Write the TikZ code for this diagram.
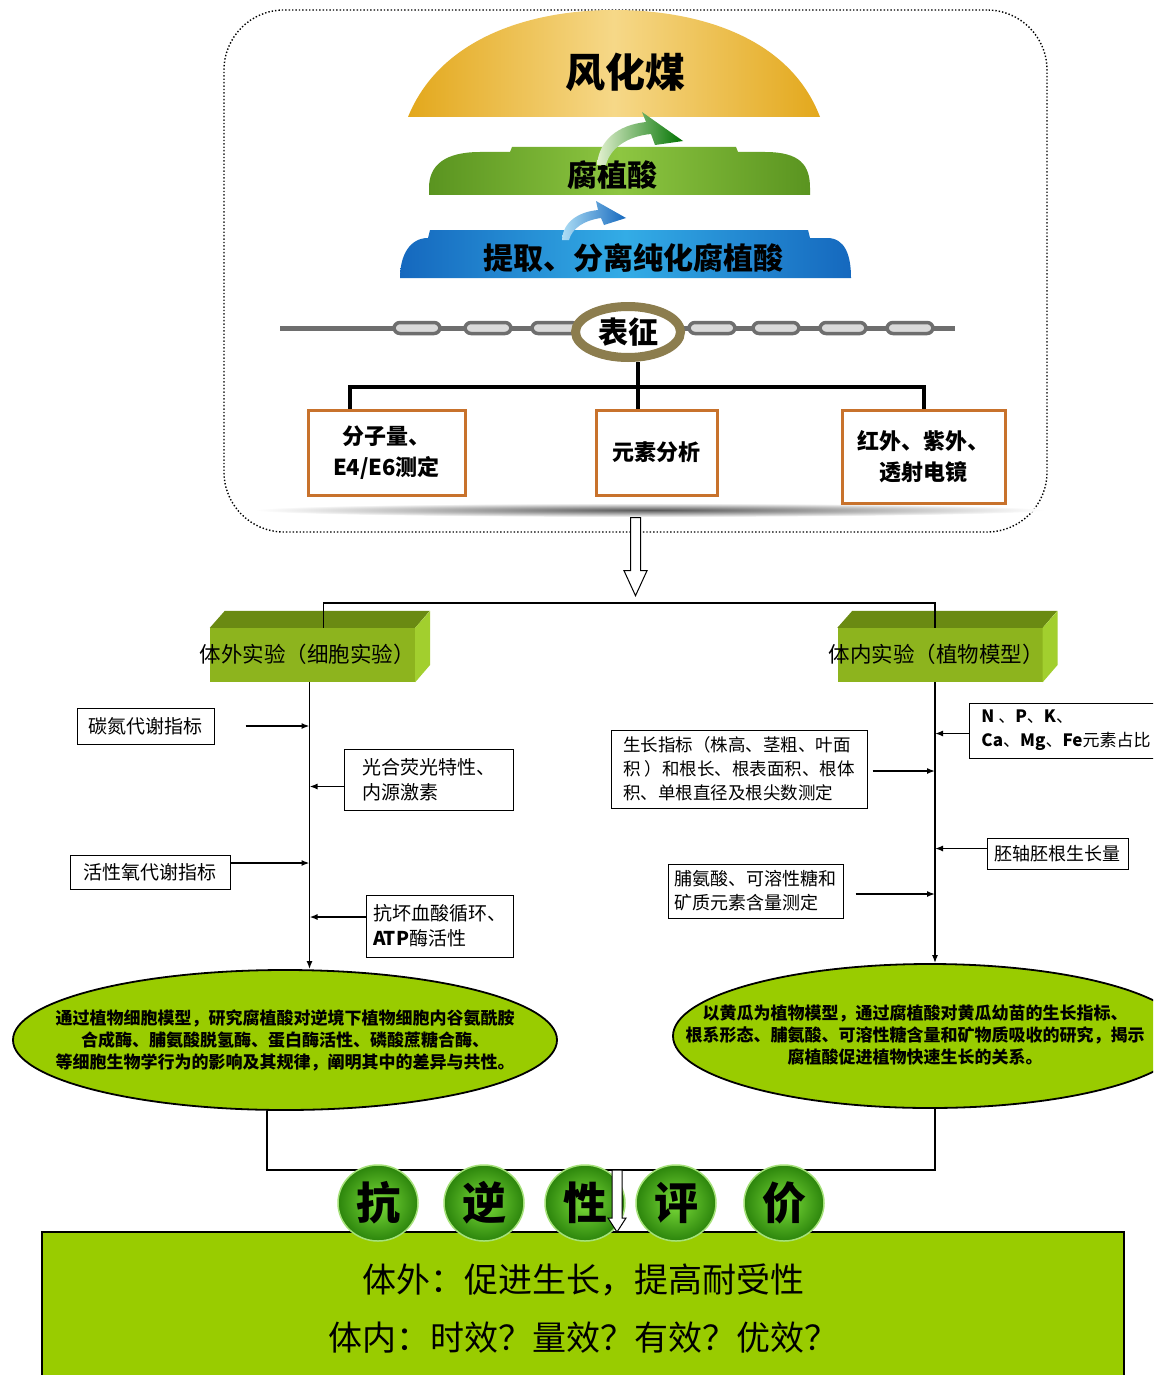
\documentclass[tikz,border=0pt]{standalone}
\usepackage{fontspec}
\setmainfont{Noto Sans CJK SC}
\usepackage{tikz}
\usetikzlibrary{arrows.meta,shapes.geometric,calc}
\definecolor{coalgold}{HTML}{E3A81C}
\definecolor{coallight}{HTML}{F6D888}
\definecolor{humicdark}{HTML}{5A9420}
\definecolor{humiclight}{HTML}{8DC641}
\definecolor{extractdark}{HTML}{1568BE}
\definecolor{extractlight}{HTML}{33ACE6}
\definecolor{chaingray}{HTML}{6E6E6E}
\definecolor{linkfill}{HTML}{DADADA}
\definecolor{ringolive}{HTML}{8C7D4E}
\definecolor{boxorange}{HTML}{C8722C}
\definecolor{blockfront}{HTML}{8DB41E}
\definecolor{blocktop}{HTML}{6A8A12}
\definecolor{blockside}{HTML}{A2CF2E}
\definecolor{leafgreen}{HTML}{99CC00}
\definecolor{balllight}{HTML}{7CDD3A}
\definecolor{balldark}{HTML}{2C850C}
\definecolor{ballrim}{HTML}{A6E27A}
\newcommand{\setfs}[2]{\fontsize{#1}{#2}\selectfont}
\tikzset{
    panel/.style={
        draw, dotted, line width=1.4pt, rounded corners=60pt
    },
    bandtext/.style={
        font={\setfs{30}{34}\bfseries}, inner sep=0pt
    },
    chainbar/.style={line width=5pt, color=chaingray},
    chainlink/.style={
        draw=chaingray, fill=linkfill, line width=3.5pt,
        rounded corners=6pt, minimum width=46pt, minimum height=11pt, inner sep=0pt
    },
    charring/.style={
        ellipse, draw=ringolive, fill=white, line width=9pt,
        minimum width=105pt, minimum height=51pt, inner sep=0pt,
        font={\setfs{30}{34}\bfseries}
    },
    treebar/.style={line width=4pt, color=black},
    methodbox/.style={
        draw=boxorange, fill=white, line width=3pt,
        align=center, inner sep=3pt,
        font={\setfs{22}{31}\bfseries}
    },
    hollow/.style={draw=black, fill=white, line width=1pt, line join=miter},
    link/.style={line width=1.5pt, color=black},
    arr/.style={-{Latex[length=8pt, width=6pt]}, line width=1.5pt, color=black},
    blockface/.style={
        fill=blockfront, minimum width=205pt, minimum height=54pt, inner sep=0pt
    },
    blocklabel/.style={
        font={\setfs{21.5}{26}}, text=black, inner sep=0pt
    },
    itembox/.style={
        draw=black, fill=white, line width=1pt,
        align=left, inner sep=4pt,
        font={\setfs{19}{25}}
    },
    studyell/.style={
        ellipse, draw=black, fill=leafgreen, line width=1.8pt, inner sep=0pt
    },
    studytext/.style={
        align=center, inner sep=0pt,
        font={\setfs{17}{22}\bfseries}
    },
    evalball/.style={
        ellipse, shade, inner color=balllight, outer color=balldark,
        draw=ballrim, line width=1.5pt,
        minimum width=80pt, minimum height=76pt, inner sep=0pt,
        font={\setfs{44}{48}\bfseries}
    },
    verdictbox/.style={
        draw=black, fill=leafgreen, line width=2.5pt,
        minimum width=1082pt, minimum height=154pt,
        align=center, font={\setfs{34}{58}}
    },
}
\begin{document}
\begin{tikzpicture}[x=1pt, y=-1pt]
    \useasboundingbox (0,0) rectangle (1153,1375);
    \clip (0,0) rectangle (1153,1375);
    \fill[white] (0,0) rectangle (1153,1375);

    % preparation panel
    \node[panel, minimum width=823pt, minimum height=522pt] (panel) at (635.5,271) {};

    % weathered coal dome
    \shade[left color=coalgold, right color=coalgold, middle color=coallight]
        (408,117) .. controls (440,38) and (530,10) .. (614,10)
        .. controls (700,10) and (790,38) .. (820,117) -- cycle;
    \node[bandtext, font={\setfs{40}{44}\bfseries}] (coal) at (625,72) {风化煤};

    % humic acid band
    \shade[left color=humicdark, right color=humicdark, middle color=humiclight]
        (429,195) -- (429,188) .. controls (429,165) and (445,152) .. (480,152)
        -- (510,152) -- (512,147) -- (736,147) -- (738,152) -- (765,152)
        .. controls (800,152) and (810,165) .. (810,188) -- (810,195) -- cycle;
    \node[bandtext] (humic) at (612,175) {腐植酸};

    % extraction band
    \shade[left color=extractdark, right color=extractdark, middle color=extractlight]
        (400,278) .. controls (400,255) and (410,238) .. (428,238)
        -- (430,230) -- (808,230) -- (810,238) -- (827,238)
        .. controls (845,238) and (851,255) .. (851,278) -- cycle;
    \node[bandtext] (extract) at (633,258) {提取、分离纯化腐植酸};

    % curved arrows between the bands
    \shade[left color=humiclight!25!white, right color=green!45!black]
        (597,165) .. controls (599,140) and (618,125) .. (646,122)
        -- (642,112) -- (683,141) -- (655,145) -- (651,134)
        .. controls (628,136) and (610,148) .. (606,165) -- cycle;
    \shade[left color=extractlight!40!white, right color=extractdark]
        (562,240) .. controls (563,222) and (578,212) .. (598,210)
        -- (596,201) -- (626,218) -- (604,225) -- (601,218)
        .. controls (585,220) and (572,228) .. (569,240) -- cycle;

    % characterisation chain
    \coordinate (chainL) at (280,328);
    \coordinate (chainR) at (955,328);
    \draw[chainbar] (chainL) -- (chainR);
    \foreach \lx [count=\k] in {417,488,555,712,776,843,910}
        \node[chainlink] (link\k) at (\lx,328) {};
    \node[charring] (char) at (628,332) {表征};

    % floor shadow under the method boxes
    \shade[inner color=black!65, outer color=white] (650,510) ellipse [x radius=395, y radius=7];

    \node[methodbox, minimum width=157pt, minimum height=85pt] (mw) at (386.5,452.5) {分子量、\\E4/E6测定};
    \node[methodbox, minimum width=121pt, minimum height=85pt] (elem) at (656.5,452.5) {元素分析};
    \node[methodbox, minimum width=163pt, minimum height=93pt] (spec) at (923.5,456.5) {红外、紫外、\\透射电镜};

    \draw[treebar] ([xshift=10pt]char.south) -- ++(0,25) coordinate (fork);
    \draw[treebar] ([xshift=-37pt]mw.north) |- (fork) -| (spec.north);
    \draw[treebar] (fork) -- (fork |- elem.north);

    % hand over to the experiments
    \draw[hollow] ([yshift=15pt]panel.south) -- ++(5,0) -- ++(0,53) -- ++(6.5,0)
        -- ++(-11.5,25) -- ++(-11.5,-25) -- ++(6.5,0) -- ++(0,-53) -- cycle;

    % the two experiment blocks
    \node[blockface] (vitro) at (312.5,655) {};
    \fill[blocktop] (vitro.north west) -- ++(15,-17) -- ++(205,0) -- (vitro.north east) -- cycle;
    \fill[blockside] (vitro.north east) -- ++(15,-17) -- ++(0,54) -- (vitro.south east) -- cycle;
    \node[blocklabel] (vitrotext) at (307,654) {体外实验（细胞实验）};

    \node[blockface] (vivo) at (940,655) {};
    \fill[blocktop] (vivo.north west) -- ++(15,-17) -- ++(205,0) -- (vivo.north east) -- cycle;
    \fill[blockside] (vivo.north east) -- ++(15,-17) -- ++(0,54) -- (vivo.south east) -- cycle;
    \node[blocklabel] (vivotext) at (936,654) {体内实验（植物模型）};

    \draw[link] ([xshift=11pt]vitro.north) -- ++(0,-25) -| ([xshift=-5pt]vivo.north);

    % cell experiment branch
    \node[studyell, minimum width=544pt, minimum height=140pt] (cellell) at (285,1040) {};
    \node[studytext] (celltext) at (cellell) {通过植物细胞模型，研究腐植酸对逆境下植物细胞内谷氨酰胺\\合成酶、脯氨酸脱氢酶、蛋白酶活性、磷酸蔗糖合酶、\\等细胞生物学行为的影响及其规律，阐明其中的差异与共性。};
    \coordinate (vitroaxis) at ([xshift=-3pt]vitro.south);
    \draw[arr] (vitroaxis) -- (vitroaxis |- cellell.north);

    \node[itembox, minimum width=137pt, minimum height=36pt] (carb) at (145.5,726) {碳氮代谢指标};
    \node[itembox, minimum width=169pt, minimum height=61pt] (photo) at (428.5,779.5) {光合荧光特性、\\内源激素};
    \node[itembox, minimum width=160pt, minimum height=34pt] (ros) at (150,872) {活性氧代谢指标};
    \node[itembox, minimum width=147pt, minimum height=62pt] (asa) at (439.5,926) {抗坏血酸循环、\\\textbf{ATP}酶活性};
    \draw[arr] ([xshift=31pt]carb.east) -- (carb.east -| vitroaxis);
    \draw[arr] ([yshift=-7pt]photo.west) -- ([yshift=-7pt]photo.west -| vitroaxis);
    \draw[arr] ([yshift=9pt]ros.east) -- ([yshift=9pt]ros.east -| vitroaxis);
    \draw[arr] ([yshift=9pt]asa.west) -- ([yshift=9pt]asa.west -| vitroaxis);

    % plant experiment branch
    \node[studyell, minimum width=514pt, minimum height=144pt] (plantell) at (930,1036) {};
    \node[studytext] (planttext) at (915,1035) {以黄瓜为植物模型，通过腐植酸对黄瓜幼苗的生长指标、\\根系形态、脯氨酸、可溶性糖含量和矿物质吸收的研究，揭示\\腐植酸促进植物快速生长的关系。};
    \coordinate (vivoaxis) at ([xshift=-5pt]vivo.south);
    \draw[arr] (vivoaxis) -- (vivoaxis |- plantell.north);

    \node[itembox, minimum width=194pt, minimum height=55pt, inner sep=3pt, font={\setfs{17}{24}}] (npk) at (1066,730.5) {\textbf{N} 、\textbf{P}、\textbf{K}、\\\textbf{Ca}、\textbf{Mg}、\textbf{Fe}元素占比};
    \node[itembox, minimum width=256pt, minimum height=78pt, font={\setfs{17.5}{24}}] (grow) at (739,769) {生长指标（株高、茎粗、叶面\\积 ）和根长、根表面积、根体\\积、单根直径及根尖数测定};
    \node[itembox, minimum width=141pt, minimum height=31pt, font={\setfs{18}{24}}] (hypo) at (1057.5,853.5) {胚轴胚根生长量};
    \node[itembox, minimum width=175pt, minimum height=54pt, font={\setfs{18}{24}}] (pro) at (755.5,891) {脯氨酸、可溶性糖和\\矿质元素含量测定};
    \draw[arr] ([yshift=-3pt]npk.west) -- ([yshift=-3pt]npk.west -| vivoaxis);
    \draw[arr] ([xshift=5pt,yshift=-2pt]grow.east) -- ([yshift=-2pt]grow.east -| vivoaxis);
    \draw[arr] ([yshift=5pt]hypo.west) -- ([yshift=5pt]hypo.west -| vivoaxis);
    \draw[arr] ([xshift=12pt,yshift=-3pt]pro.east) -- ([yshift=-3pt]pro.east -| vivoaxis);

    % merge into the evaluation
    \coordinate (merge) at (617,1170);
    \draw[link] ([xshift=-18pt]cellell.south) |- (merge) -| ([xshift=5pt]plantell.south);

    \node[verdictbox] (verdict) at (583,1309) {体外：促进生长，提高耐受性\\体内：时效？量效？有效？优效？};

    \foreach \bx/\ch [count=\k] in {378/抗, 484/逆, 585/性, 676/评, 784/价}
        \node[evalball] (ball\k) at (\bx,1203) {\ch};

    \draw[hollow] (merge) -- ++(5,0) -- ++(0,48) -- ++(4,0)
        -- ++(-9,14) -- ++(-9,-14) -- ++(4,0) -- ++(0,-48) -- cycle;
\end{tikzpicture}
\end{document}
